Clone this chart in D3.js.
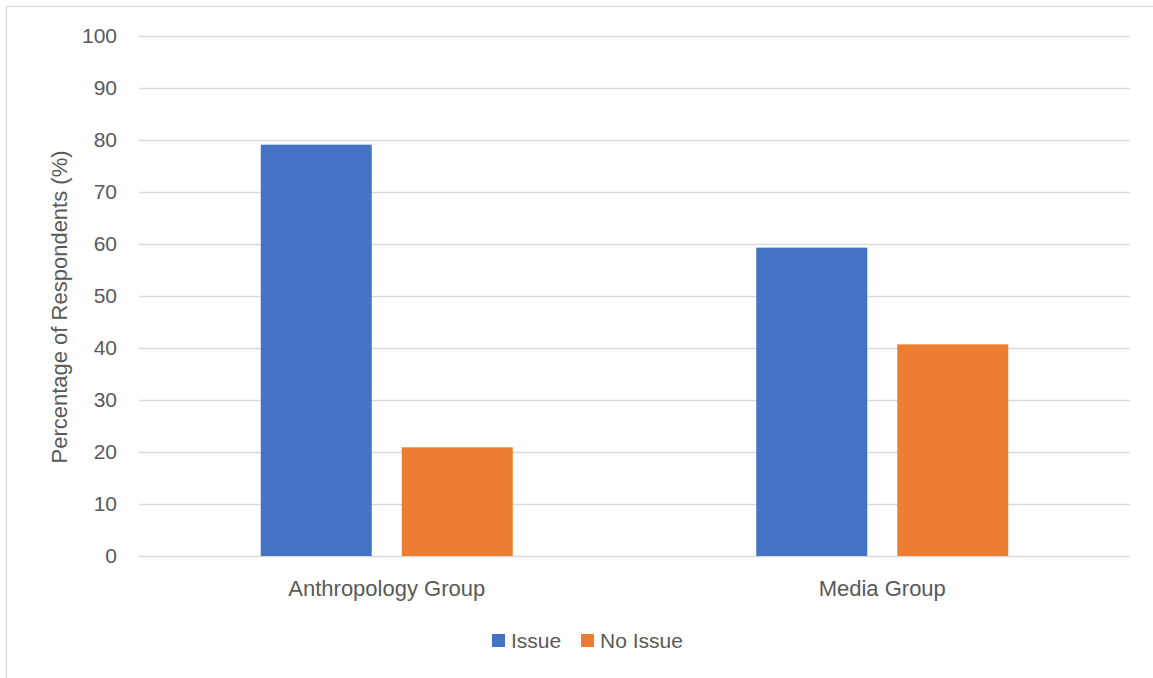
<!DOCTYPE html>
<html>
<head>
<meta charset="utf-8">
<script src="https://cdn.jsdelivr.net/npm/d3@7"></script>
<style>
  html, body { margin: 0; padding: 0; background: #fff; }
  svg text { font-family: "Liberation Sans", Arial, sans-serif; fill: #595959; }
</style>
</head>
<body>
<svg id="chart" width="1153" height="678"></svg>
<script>
const categories = ["Anthropology Group", "Media Group"];
const seriesNames = ["Issue", "No Issue"];
const issueValues = [79.1, 59.3];
const noIssueValues = [20.9, 40.7];
const yTicks = [0, 10, 20, 30, 40, 50, 60, 70, 80, 90, 100];
const colors = ["#4472C4", "#ED7D31"];
const yTitle = "Percentage of Respondents (%)";

const seriesValues = [issueValues, noIssueValues];
const data = categories.map((c, i) => ({
  category: c,
  values: seriesNames.map((s, j) => ({ series: s, value: seriesValues[j][i] }))
}));

const svg = d3.select("#chart");
const plot = { left: 139, right: 1130, top: 36, bottom: 556 };

// outer border
svg.append("rect")
  .attr("x", 6.5).attr("y", 6.5)
  .attr("width", 1160).attr("height", 700)
  .attr("fill", "none").attr("stroke", "#d9d9d9").attr("stroke-width", 1.3);

const y = d3.scaleLinear().domain([0, 100]).range([plot.bottom, plot.top]);
const x0 = d3.scaleBand().domain(categories).range([plot.left, plot.right]).padding(0);
const groupWidth = 252;
const x1 = d3.scaleBand().domain(seriesNames).range([0, groupWidth]).paddingInner(0.2128).paddingOuter(0);

// gridlines
svg.append("g").selectAll("line").data(yTicks).join("line")
  .attr("x1", plot.left).attr("x2", plot.right)
  .attr("y1", d => Math.round(y(d)) + 0.5).attr("y2", d => Math.round(y(d)) + 0.5)
  .attr("stroke", "#d9d9d9").attr("stroke-width", 1.3);

// y axis labels
const yAxis = d3.axisLeft(y).tickValues(yTicks).tickSize(0).tickPadding(0);
const yg = svg.append("g").attr("transform", `translate(117,0)`).call(yAxis);
yg.select(".domain").remove();
yg.selectAll("text").attr("font-size", 21).attr("fill", "#595959")
  .style("font-family", '"Liberation Sans", Arial, sans-serif');

// bars
const groups = svg.append("g").selectAll("g").data(data).join("g")
  .attr("transform", d => `translate(${x0(d.category) + x0.bandwidth() / 2 - groupWidth / 2},0)`);
groups.selectAll("rect").data(d => d.values).join("rect")
  .attr("x", d => x1(d.series))
  .attr("y", d => y(d.value))
  .attr("width", x1.bandwidth())
  .attr("height", d => y(0) - y(d.value))
  .attr("fill", (d, i) => colors[i]);

// x axis labels
const xAxis = d3.axisBottom(x0).tickSize(0).tickPadding(0);
const xg = svg.append("g").attr("transform", `translate(0,${plot.bottom + 23})`).call(xAxis);
xg.select(".domain").remove();
xg.selectAll("text").attr("font-size", 22).attr("fill", "#595959").attr("dy", "0.75em")
  .style("font-family", '"Liberation Sans", Arial, sans-serif');

// y title
svg.append("text")
  .attr("transform", `translate(67,${(plot.top + plot.bottom) / 2 + 11}) rotate(-90)`)
  .attr("text-anchor", "middle")
  .attr("font-size", 22)
  .text(yTitle);

// legend
const legendItems = [
  { name: seriesNames[0], color: colors[0], x: 492 },
  { name: seriesNames[1], color: colors[1], x: 581 }
];
const lg = svg.append("g");
legendItems.forEach(it => {
  lg.append("rect").attr("x", it.x).attr("y", 634).attr("width", 13).attr("height", 13).attr("fill", it.color);
  lg.append("text").attr("x", it.x + 19).attr("y", 648).attr("font-size", 21).text(it.name);
});
</script>
</body>
</html>
